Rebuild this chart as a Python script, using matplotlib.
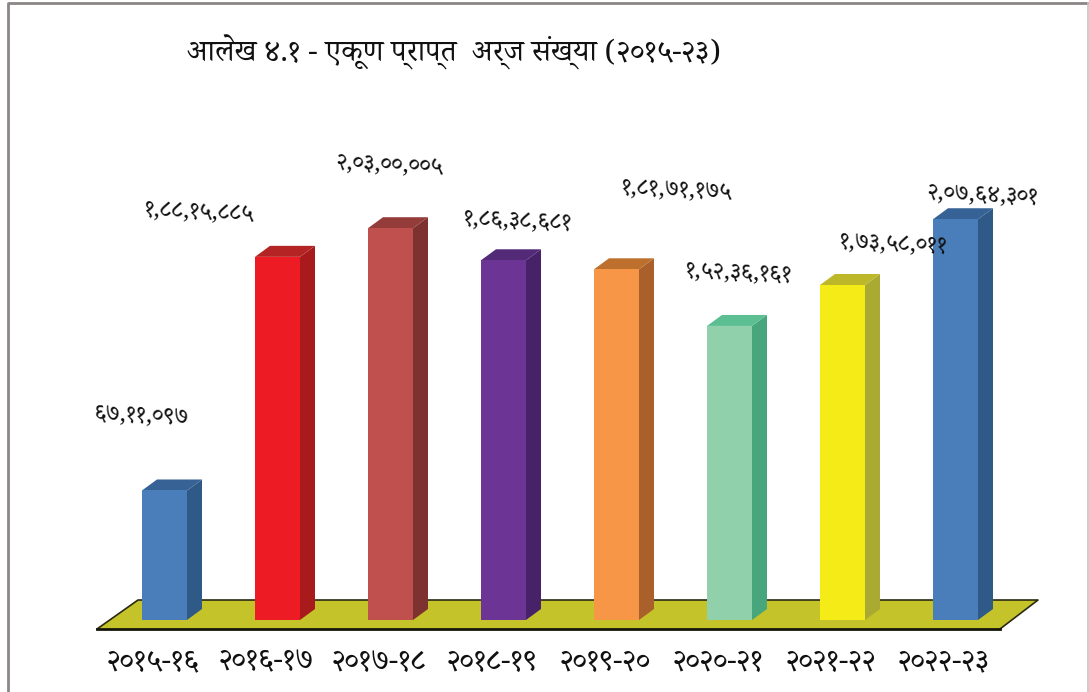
'''
Total applications received per fiscal year, drawn as pseudo 3D bars on a floor.
'''

import matplotlib
matplotlib.use('Agg')
import matplotlib.pyplot as plt
from matplotlib.patches import Polygon

plt.rcParams['font.family'] = ['Noto Serif Devanagari', 'Noto Sans Devanagari', 'DejaVu Sans']

title = 'आलेख ४.१ - एकूण प्राप्त  अर्ज संख्या (२०१५-२३)'
years = ['२०१५-१६', '२०१६-१७', '२०१७-१८', '२०१८-१९', '२०१९-२०', '२०२०-२१', '२०२१-२२', '२०२२-२३']
values = [6711097, 18815885, 20300005, 18638681, 18171175, 15236161, 17358011, 20764301]
value_labels = ['६७,११,०९७', '१,८८,१५,८८५', '२,०३,००,००५', '१,८६,३८,६८१',
                '१,८१,७१,१७५', '१,५२,३६,१६१', '१,७३,५८,०११', '२,०७,६४,३०१']

front_colors = ['#4a7ebb', '#ed1c24', '#c0504d', '#6c3595', '#f79646', '#90d1ab', '#f5ec17', '#4a7ebb']
side_colors = ['#2f5a88', '#a81a1c', '#7d3230', '#472268', '#a9602a', '#47a67c', '#aaa932', '#2f5a88']
top_colors = ['#376295', '#b52424', '#933c3a', '#522a78', '#bd6f2e', '#5cbf94', '#bdb82a', '#376295']

# label centres in pixels, they are placed by hand in the original
label_px = [(141, 416), (199, 213), (390, 165), (518, 222), (677, 191), (739, 273), (893, 245), (983, 196)]

W, H = 1089, 692
PX_X = 113.0            # pixels per category
PX_Y = 1.93 / 100000    # pixels per application
X0, Y0 = 164.5, 620.0   # pixel position of first bar centre and of zero
BAR_W = 45 / PX_X
DX = 15 / PX_X
DY = 11 / PX_Y

fig = plt.figure(figsize=(W / 100, H / 100), dpi=100)
ax = fig.add_axes([0, 0, 1, 1])
ax.set_xlim(-X0 / PX_X, (W - X0) / PX_X)
ax.set_ylim((Y0 - H) / PX_Y, Y0 / PX_Y)
ax.axis('off')


def px(x, y):
    return ((x - X0) / PX_X, (Y0 - y) / PX_Y)


# page frame
ax.plot(*zip(px(8, H), px(8, 3), px(1088, 3)), color='#8c8686', lw=2.0, zorder=1)
ax.plot(*zip(px(1088, 3), px(1088, H)), color='#c4c4c4', lw=1.2, zorder=1)

# floor
floor = [px(97, 629), px(138, 600), px(1038, 600), px(1000, 629)]
ax.add_patch(Polygon(floor, closed=True, facecolor='#c4c42a', edgecolor='none', zorder=2))
ax.plot(*zip(floor[0], floor[1], floor[2], floor[3]), color='#2a2a12', lw=1.2, zorder=3)
ax.plot(*zip(floor[3], floor[0]), color='#15150a', lw=2.0, zorder=3)

# bars
xs = list(range(len(values)))
ax.bar(xs, values, width=BAR_W, color=front_colors, zorder=5)
for x, v, side, top in zip(xs, values, side_colors, top_colors):
    left, right = x - BAR_W / 2, x + BAR_W / 2
    ax.add_patch(Polygon([(right, 0), (right + DX, DY), (right + DX, v + DY), (right, v)],
                         closed=True, facecolor=side, edgecolor='none', zorder=4))
    ax.add_patch(Polygon([(left, v), (left + DX, v + DY), (right + DX, v + DY), (right, v)],
                         closed=True, facecolor=top, edgecolor='none', zorder=4))

# texts
ax.text(*px(454, 52), title, fontsize=21.5, ha='center', va='center', color='#111111', zorder=6)

for x, year in zip(xs, years):
    ax.annotate(year, (x, 0), xytext=(-11.5 * 0.72, -42 * 0.72), textcoords='offset points',
                fontsize=21.5, ha='center', va='center', color='#111111', zorder=6)

for pos, label in zip(label_px, value_labels):
    ax.text(*px(*pos), label, fontsize=17, ha='center', va='center', rotation=-2.5,
            rotation_mode='anchor', color='#111111', zorder=6)

fig.savefig('out.png', dpi=100)
